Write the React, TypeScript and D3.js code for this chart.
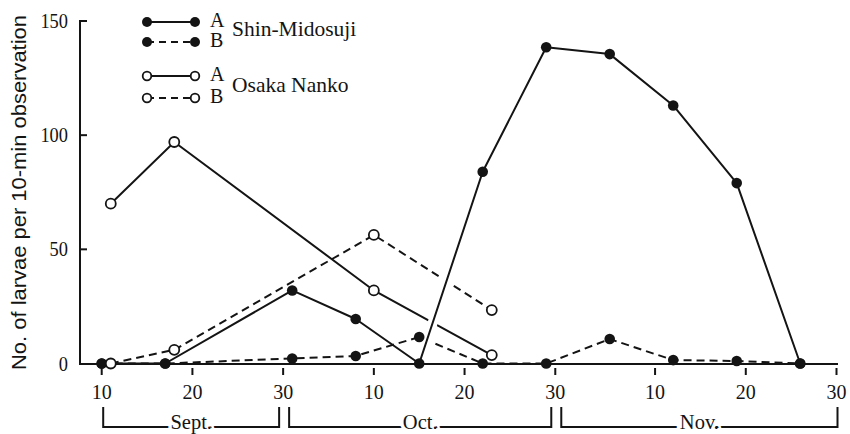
import React from "react";
import * as d3 from "d3";

// Sampling dates and counts (larvae per 10-min observation)
const shinDates = ["Sep 10", "Sep 17", "Oct 1", "Oct 8", "Oct 15", "Oct 22", "Oct 29", "Nov 5", "Nov 12", "Nov 19", "Nov 26"];
const shinA = [0, 0, 32, 19.5, 0, 84, 138.5, 135.5, 113, 79, 0];
const shinB = [0, 0, 2.2, 3.3, 11.6, 0, 0, 10.7, 1.5, 1.1, 0];

const osakaDates = ["Sep 11", "Sep 18", "Oct 10", "Oct 23"];
const osakaA = [70, 97, 32, 3.7];
const osakaB = [0, 6, 56.3, 23.4];

// Axis ticks
const yTicks = [0, 50, 100, 150];
const xTickDates = ["Sep 10", "Sep 20", "Sep 30", "Oct 10", "Oct 20", "Oct 30", "Nov 10", "Nov 20", "Nov 30"];
const xTickLabels = ["10", "20", "30", "10", "20", "30", "10", "20", "30"];

// Month brackets below the axis
const monthNames = ["Sept.", "Oct.", "Nov."];
const monthStarts = ["Sep 10", "Sep 30", "Oct 30"];
const monthEnds = ["Sep 30", "Oct 30", "Nov 30"];

const yLabel = "No. of larvae per 10-min observation";

const parse = d3.utcParse("%b %d");
const SERIF = "'Liberation Serif', 'Times New Roman', serif";
const SANS = "'Liberation Sans', Arial, sans-serif";
const INK = "#141414";

type Pt = { date: Date; value: number };
const zipSeries = (dates: string[], vals: number[]): Pt[] =>
  dates.map((d, i) => ({ date: parse(d) as Date, value: vals[i] }));

export default function App() {
  const W = 850;
  const H = 434;

  const x = d3
    .scaleUtc()
    .domain([parse("Sep 10") as Date, parse("Nov 30") as Date])
    .range([101.7, 836.5]);
  const y = d3.scaleLinear().domain([0, 150]).range([363.5, 21]);

  const line = d3
    .line<Pt>()
    .x((d) => x(d.date))
    .y((d) => y(d.value));

  const sA = zipSeries(shinDates, shinA);
  const sB = zipSeries(shinDates, shinB);
  const oA = zipSeries(osakaDates, osakaA);
  const oB = zipSeries(osakaDates, osakaB);

  // the steep rise after the Oct 15 zero is drawn over a white break
  const riseFrom = shinDates.indexOf("Oct 15");
  const riseSeg = sA.slice(riseFrom, riseFrom + 2);

  const dash = "8 5";
  const lw = 2;
  const axisY = y(0) + 0.5;

  const legendRows = [
    { y: 22, filled: true, dashed: false, letter: "A" },
    { y: 42, filled: true, dashed: true, letter: "B" },
    { y: 76, filled: false, dashed: false, letter: "A" },
    { y: 98, filled: false, dashed: true, letter: "B" },
  ];
  const legendNames = [
    { name: "Shin-Midosuji", y: 36 },
    { name: "Osaka Nanko", y: 92 },
  ];

  return (
    <svg
      width={W}
      height={H}
      viewBox={`0 0 ${W} ${H}`}
      style={{ position: "absolute", left: 0, top: 0, display: "block", background: "#fff" }}
    >
      <rect x={0} y={0} width={W} height={H} fill="#fff" />
      <defs>
        <clipPath id="riseClip">
          <rect x={0} y={0} width={W} height={y(5)} />
        </clipPath>
      </defs>

      {/* y axis */}
      <line x1={80} x2={80} y1={y(150) - 1} y2={axisY} stroke={INK} strokeWidth={2} />
      {yTicks.map((t) => (
        <g key={"yt" + t}>
          {t > 0 && <line x1={80} x2={87} y1={y(t)} y2={y(t)} stroke={INK} strokeWidth={2} />}
          <text
            transform={`translate(68,${y(t) + 7}) scale(0.92,1)`}
            textAnchor="end"
            fontFamily={SERIF}
            fontSize={20}
            fill={INK}
          >
            {t}
          </text>
        </g>
      ))}
      <text
        transform={`translate(26,${192.5}) rotate(-90)`}
        textAnchor="middle"
        fontFamily={SANS}
        fontSize={21}
        fill={INK}
        textLength={355}
        lengthAdjust="spacingAndGlyphs"
      >
        {yLabel}
      </text>

      {/* x axis */}
      <line x1={79} x2={838} y1={axisY} y2={axisY} stroke={INK} strokeWidth={2} />
      {xTickDates.map((d, i) => {
        const px = x(parse(d) as Date);
        return (
          <g key={"xt" + i}>
            <line x1={px} x2={px} y1={368} y2={375} stroke={INK} strokeWidth={2} />
            <text x={px} y={399} textAnchor="middle" fontFamily={SERIF} fontSize={20} fill={INK}>
              {xTickLabels[i]}
            </text>
          </g>
        );
      })}

      {/* month brackets */}
      {monthNames.map((m, i) => {
        const left = x(parse(monthStarts[i]) as Date) + (i === 0 ? 1.5 : 6);
        const right = x(parse(monthEnds[i]) as Date) - (i === monthNames.length - 1 ? -1 : 4);
        const by = 427;
        return (
          <g key={"m" + m}>
            <path
              d={`M${left},407 V${by} H${right} V407`}
              fill="none"
              stroke={INK}
              strokeWidth={2}
            />
            <text
              x={(left + right) / 2}
              y={429}
              textAnchor="middle"
              fontFamily={SERIF}
              fontSize={20.5}
              fill={INK}
              stroke="#fff"
              strokeWidth={7}
              paintOrder="stroke"
            >
              {m}
            </text>
          </g>
        );
      })}

      {/* series lines */}
      <path d={line(oB) ?? ""} fill="none" stroke={INK} strokeWidth={lw} strokeDasharray={dash} />
      <path d={line(sB) ?? ""} fill="none" stroke={INK} strokeWidth={lw} strokeDasharray={dash} />
      <path d={line(oA) ?? ""} fill="none" stroke={INK} strokeWidth={lw} />
      <path
        d={line(riseSeg) ?? ""}
        fill="none"
        stroke="#fff"
        strokeWidth={10}
        clipPath="url(#riseClip)"
      />
      <path d={line(sA) ?? ""} fill="none" stroke={INK} strokeWidth={lw} strokeLinejoin="round" />

      {/* markers */}
      {[...sA, ...sB].map((p, i) => (
        <circle key={"f" + i} cx={x(p.date)} cy={y(p.value)} r={5.3} fill={INK} />
      ))}
      {[...oA, ...oB].map((p, i) => (
        <circle
          key={"o" + i}
          cx={x(p.date)}
          cy={y(p.value)}
          r={5}
          fill="#fff"
          stroke={INK}
          strokeWidth={1.8}
        />
      ))}

      {/* legend */}
      {legendRows.map((r, i) => (
        <g key={"lg" + i}>
          <line
            x1={147}
            x2={195}
            y1={r.y}
            y2={r.y}
            stroke={INK}
            strokeWidth={2}
            strokeDasharray={r.dashed ? "7 5" : undefined}
          />
          {[147, 195].map((cx) =>
            r.filled ? (
              <circle key={cx} cx={cx} cy={r.y} r={5} fill={INK} />
            ) : (
              <circle key={cx} cx={cx} cy={r.y} r={4.3} fill="#fff" stroke={INK} strokeWidth={1.8} />
            )
          )}
          <text x={210} y={r.y + 5} fontFamily={SERIF} fontSize={20} fill={INK}>
            {r.letter}
          </text>
        </g>
      ))}
      {legendNames.map((n) => (
        <text key={n.name} x={232} y={n.y} fontFamily={SERIF} fontSize={21.5} fill={INK}>
          {n.name}
        </text>
      ))}
    </svg>
  );
}
